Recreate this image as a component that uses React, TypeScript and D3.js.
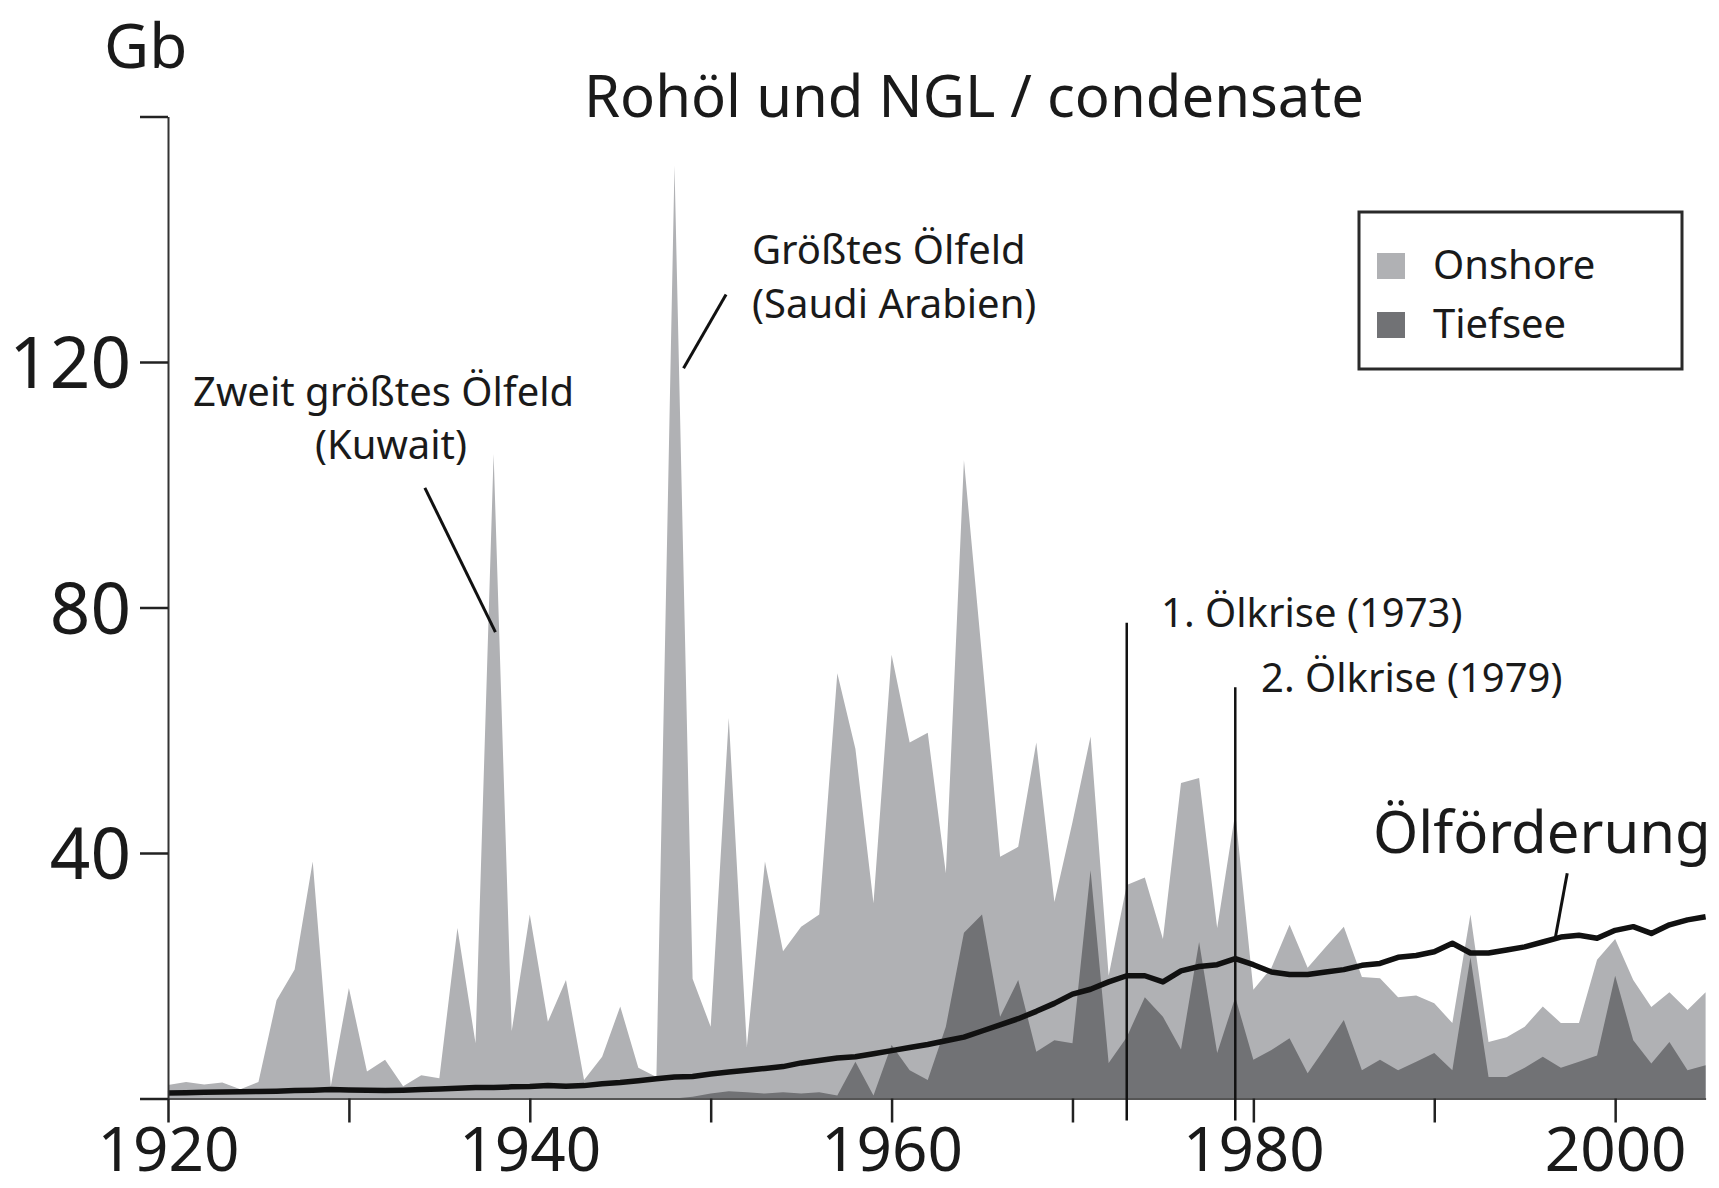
import React, { useRef, useEffect } from 'react';
import * as d3 from 'd3';

// years 1920..2005
const years = d3.range(1920, 2006);

// total discoveries (light grey, Gb)
const gesamt = [
  2.2, 2.7, 2.3, 2.6, 1.5, 2.7, 16, 21, 38.6, 2,
  18, 4.4, 6.3, 2, 3.8, 3.3, 27.8, 9, 105, 11,
  30, 12.5, 19.3, 3, 6.8, 15, 5, 3.5, 152, 19.5,
  11.7, 62, 8.4, 38.6, 24, 28, 30, 69.3, 57, 31.8,
  72.3, 58, 59.6, 36.7, 104, 72, 39.4, 41, 58, 32,
  45, 59, 20, 34.8, 36, 26, 51.4, 52.2, 27.8, 46.5,
  17.7, 21.3, 28.3, 21.3, 24.7, 28, 19.8, 19.6, 16.5, 16.8,
  15.5, 12.3, 30, 9.2, 10, 11.7, 15, 12.3, 12.3, 22.6,
  26, 19.3, 14.9, 17.3, 14.4, 17.3,
];

// deep water share (dark grey, Gb)
const tiefsee = [
  0, 0, 0, 0, 0, 0, 0, 0, 0, 0,
  0, 0, 0, 0, 0, 0, 0, 0, 0, 0,
  0, 0, 0, 0, 0, 0, 0, 0, 0, 0.3,
  0.8, 1.2, 1, 0.8, 1, 0.8, 1, 0.5, 6, 0.5,
  8.7, 4.6, 3, 11.7, 27, 30, 13.3, 19.3, 7.6, 9.5,
  9, 37.2, 5.8, 10, 16.5, 13.3, 8, 25.5, 7.4, 16.5,
  6.3, 7.9, 9.8, 4.1, 8.4, 12.8, 4.6, 6.3, 4.6, 6,
  7.4, 4.6, 23, 3.5, 3.5, 5, 6.8, 5, 6, 7,
  20, 9.5, 5.7, 9.2, 4.6, 5.4,
];

// oil production (black line, Gb/yr)
const foerderung = [
  0.9, 0.95, 1.0, 1.05, 1.1, 1.15, 1.2, 1.3, 1.35, 1.45,
  1.4, 1.35, 1.3, 1.35, 1.45, 1.55, 1.65, 1.8, 1.8, 1.9,
  1.95, 2.1, 2.0, 2.1, 2.4, 2.6, 2.9, 3.2, 3.5, 3.6,
  4.0, 4.3, 4.6, 4.9, 5.2, 5.8, 6.2, 6.6, 6.8, 7.3,
  7.8, 8.3, 8.8, 9.4, 10.0, 11.0, 12.0, 13.0, 14.2, 15.5,
  17.0, 17.8, 19.0, 20.0, 20.0, 19.0, 20.8, 21.5, 21.8, 22.8,
  21.8, 20.6, 20.2, 20.2, 20.6, 21.0, 21.7, 22.0, 23.0, 23.3,
  23.9, 25.3, 23.7, 23.7, 24.2, 24.7, 25.5, 26.3, 26.6, 26.1,
  27.4, 28.0, 26.9, 28.3, 29.1, 29.6,
];

const yTicks = [0, 40, 80, 120, 160];
const yLabels = [40, 80, 120];
const xTicks = [1920, 1930, 1940, 1950, 1960, 1970, 1980, 1990, 2000];
const xLabels = [1920, 1940, 1960, 1980, 2000];

const crises = [
  { year: 1973, top: 77.5, label: '1. Ölkrise (1973)' },
  { year: 1979, top: 67, label: '2. Ölkrise (1979)' },
];

const LIGHT = '#b0b1b4';
const DARK = '#717275';
const FONT = '"Noto Sans", "Open Sans", sans-serif';

function OilChart() {
  const svgRef = useRef(null);

  useEffect(() => {
    const svg = d3.select(svgRef.current);
    svg.selectAll('*').remove();

    const x = d3.scaleLinear().domain([1920, 2005]).range([168, 1705.6]);
    const y = d3.scaleLinear().domain([0, 160]).range([1098.5, 116.5]);

    const rows = years.map((yr, i) => ({ yr, g: gesamt[i], t: tiefsee[i], p: foerderung[i] }));

    const areaG = d3.area().x(d => x(d.yr)).y0(y(0)).y1(d => y(d.g));
    const areaT = d3.area().x(d => x(d.yr)).y0(y(0)).y1(d => y(d.t));
    const lineP = d3.line().x(d => x(d.yr)).y(d => y(d.p));

    svg.append('path').datum(rows).attr('d', areaG).attr('fill', LIGHT);
    svg.append('path').datum(rows).attr('d', areaT).attr('fill', DARK);
    svg.append('path').datum(rows).attr('d', lineP)
      .attr('fill', 'none').attr('stroke', '#111').attr('stroke-width', 5.5)
      .attr('stroke-linejoin', 'round');

    // y axis
    const yAxis = d3.axisLeft(y).tickValues(yTicks).tickSize(28).tickSizeOuter(0).tickPadding(9)
      .tickFormat(d => (yLabels.includes(d) ? d : ''));
    const gy = svg.append('g').attr('transform', `translate(${x(1920)},0)`).call(yAxis);
    gy.select('.domain').attr('stroke', '#333').attr('stroke-width', 2);
    gy.selectAll('.tick line').attr('stroke', '#222').attr('stroke-width', 2.5);
    gy.selectAll('.tick text').attr('font-size', 71).attr('font-family', FONT).attr('fill', '#1a1a1a').attr('dy', '0.36em');

    // x axis
    const xAxis = d3.axisBottom(x).tickValues(xTicks).tickSize(24).tickSizeOuter(0).tickPadding(4)
      .tickFormat(d => (xLabels.includes(d) ? d : ''));
    const gx = svg.append('g').attr('transform', `translate(0,${y(0)})`).call(xAxis);
    gx.select('.domain').attr('stroke', '#555').attr('stroke-width', 2);
    gx.selectAll('.tick line').attr('stroke', '#222').attr('stroke-width', 2.5);
    gx.selectAll('.tick text').attr('font-size', 62).attr('font-family', FONT).attr('fill', '#1a1a1a');

    // crisis markers
    crises.forEach(c => {
      svg.append('line')
        .attr('x1', x(c.year)).attr('x2', x(c.year))
        .attr('y1', y(c.top)).attr('y2', y(0) + 22)
        .attr('stroke', '#111').attr('stroke-width', 2.5);
    });

    const text = (t, tx, ty, size, anchor = 'start') =>
      svg.append('text').text(t).attr('x', tx).attr('y', ty)
        .attr('font-size', size).attr('font-family', FONT).attr('fill', '#1a1a1a')
        .attr('text-anchor', anchor);

    text(crises[0].label, 1161, 627, 40);
    text(crises[1].label, 1261, 692, 40);

    text('Gb', 104, 68, 62);
    text('Rohöl und NGL / condensate', 584, 117, 58);

    // annotations
    const leader = (y1a, v1, y2a, v2) =>
      svg.append('line')
        .attr('x1', x(y1a)).attr('y1', y(v1)).attr('x2', x(y2a)).attr('y2', y(v2))
        .attr('stroke', '#111').attr('stroke-width', 3);

    text('Zweit größtes Ölfeld', 193, 406, 40);
    text('(Kuwait)', 391, 459, 40, 'middle');
    leader(1934.2, 99.5, 1938.1, 76);

    text('Größtes Ölfeld', 752, 264, 40);
    text('(Saudi Arabien)', 752, 318, 40);
    leader(1950.85, 131, 1948.5, 119);

    text('Ölförderung', 1373, 853, 58);
    leader(1997.35, 36.7, 1996.7, 26.3);

    // legend
    const lg = svg.append('g');
    lg.append('rect').attr('x', 1359).attr('y', 212).attr('width', 323).attr('height', 157)
      .attr('fill', 'white').attr('stroke', '#2a2a2a').attr('stroke-width', 3);
    [['Onshore', LIGHT, 253], ['Tiefsee', DARK, 312]].forEach(([name, col, top]) => {
      lg.append('rect').attr('x', 1377).attr('y', top).attr('width', 28).attr('height', 26).attr('fill', col);
      lg.append('text').text(name).attr('x', 1433).attr('y', top + 26)
        .attr('font-size', 40).attr('font-family', FONT).attr('fill', '#1a1a1a');
    });
  }, []);

  return (
    <svg ref={svgRef} width={1719} height={1188}
      style={{ position: 'absolute', left: 0, top: 0, background: 'white' }} />
  );
}

export default function App() {
  return <OilChart />;
}
